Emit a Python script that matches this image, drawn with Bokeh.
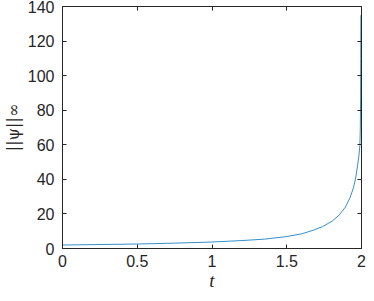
from bokeh.plotting import figure
from bokeh.models import Range1d, FixedTicker, LinearAxis
from bokeh.embed import file_html
from bokeh.resources import INLINE

# data
t_vals = [0.0, 0.25, 0.5, 0.75, 1.0, 1.2, 1.35, 1.5, 1.6, 1.675, 1.74, 1.805,
          1.849, 1.892, 1.924, 1.946, 1.961, 1.974, 1.983, 1.989, 1.992, 1.994,
          1.995, 1.996]
psi_vals = [2.0, 2.3, 2.6, 3.1, 3.75, 4.6, 5.4, 6.9, 8.5, 10.5, 12.7, 15.9,
            19.2, 23.9, 29.5, 35.1, 40.7, 48.2, 54.0, 59.4, 69.0, 87.0,
            110.0, 135.0]

x_ticks = [0, 0.5, 1, 1.5, 2]
x_tick_labels = ["0", "0.5", "1", "1.5", "2"]
y_ticks = [0, 20, 40, 60, 80, 100, 120, 140]

AX = "#262626"
FONT = "Liberation Sans"

p = figure(width=366, height=293, output_backend="svg", toolbar_location=None,
           x_range=Range1d(0, 2), y_range=Range1d(0, 140),
           min_border_left=10, min_border_right=5, min_border_top=6, min_border_bottom=0)
p.background_fill_color = "white"
p.border_fill_color = "white"
p.grid.visible = False
p.outline_line_color = AX
p.outline_line_width = 1

p.line(t_vals, psi_vals, line_color="#0072BD", line_width=0.8)

for ax in (p.xaxis[0], p.yaxis[0]):
    ax.axis_line_color = AX
    ax.major_tick_line_color = AX
    ax.major_tick_in = 4
    ax.major_tick_out = 0
    ax.minor_tick_line_color = None
    ax.major_label_text_font = FONT
    ax.major_label_text_font_size = "16px"
    ax.major_label_text_color = AX
    ax.major_label_text_line_height = 1.0

p.xaxis.ticker = FixedTicker(ticks=x_ticks)
p.xaxis.major_label_overrides = {tk: lb for tk, lb in zip(x_ticks, x_tick_labels)}
p.yaxis.ticker = FixedTicker(ticks=y_ticks)
p.xaxis.major_label_standoff = 6
p.yaxis.major_label_standoff = 8

p.xaxis.axis_label = "t"
p.xaxis.axis_label_text_font = "Liberation Serif"
p.xaxis.axis_label_text_font_style = "italic"
p.xaxis.axis_label_text_font_size = "19px"
p.xaxis.axis_label_text_color = AX
p.xaxis.axis_label_standoff = 0
p.xaxis.axis_label_text_line_height = 0.9

p.yaxis.axis_label = "||ψ||∞"
p.yaxis.axis_label_text_font = "DejaVu Serif"
p.yaxis.axis_label_text_font_style = "normal"
p.yaxis.axis_label_text_font_size = "16px"
p.yaxis.axis_label_text_color = AX
p.yaxis.axis_label_standoff = 2
p.yaxis.axis_label_text_line_height = 1.0

# mirrored inward ticks on top and right (box on)
top = LinearAxis(ticker=FixedTicker(ticks=x_ticks), major_label_text_font_size="0px",
                 major_label_overrides={tk: "" for tk in x_ticks},
                 major_label_standoff=0,
                 major_tick_in=4, major_tick_out=0, minor_tick_line_color=None,
                 axis_line_color=AX, major_tick_line_color=AX)
right = LinearAxis(ticker=FixedTicker(ticks=y_ticks), major_label_text_font_size="0px",
                   major_label_overrides={tk: "" for tk in y_ticks},
                   major_label_standoff=0,
                   major_tick_in=4, major_tick_out=0, minor_tick_line_color=None,
                   axis_line_color=AX, major_tick_line_color=AX)
p.add_layout(top, "above")
p.add_layout(right, "right")

open("out.html", "w").write(file_html(p, INLINE))
